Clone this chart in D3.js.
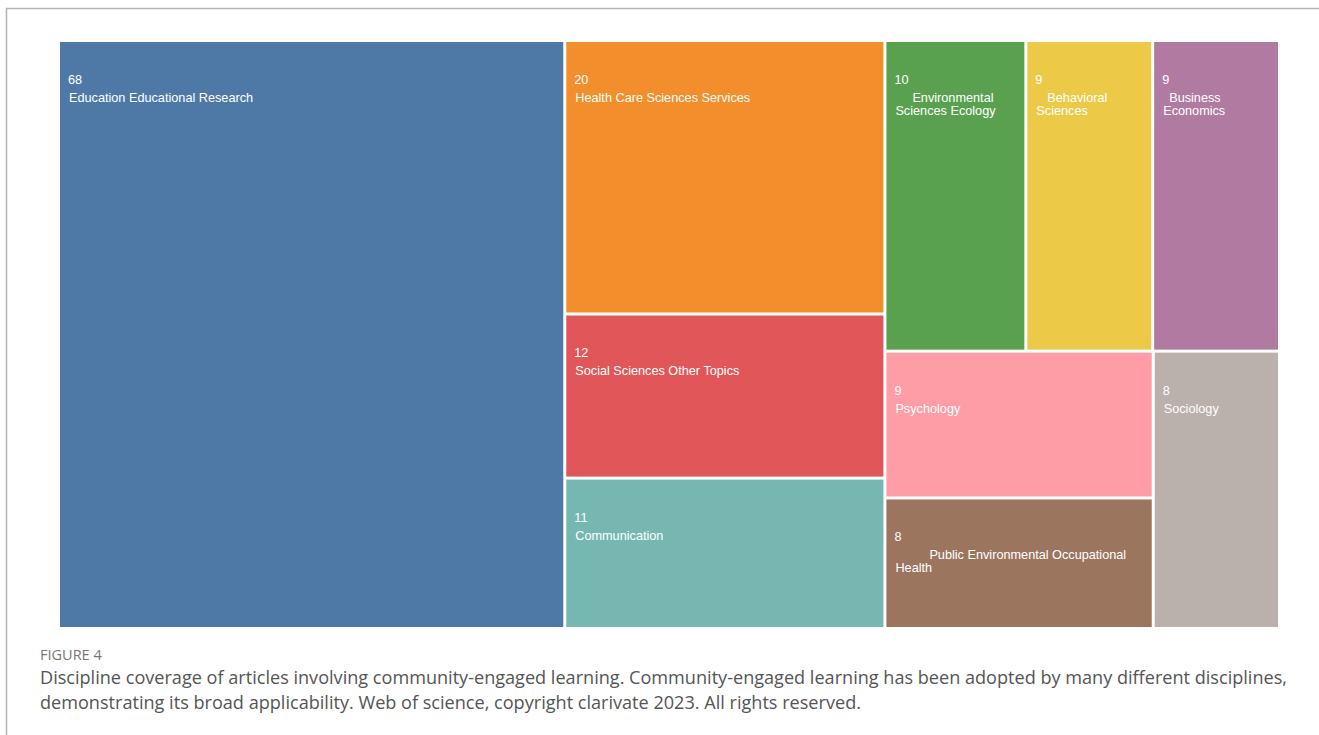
<!DOCTYPE html>
<html>
<head>
<meta charset="utf-8">
<script src="https://cdn.jsdelivr.net/npm/d3@7"></script>
<style>
  body { margin: 0; background: #fff; }
  svg { display: block; }
  .tile-label { font-family: "Liberation Sans", Arial, sans-serif; font-size: 12.7px; fill: #fff; }
  .fig-num { font-family: "Open Sans", sans-serif; font-size: 14.5px; fill: #777; }
  .caption { font-family: "Open Sans", sans-serif; font-size: 18.1px; fill: #555; }
</style>
</head>
<body>
<div id="chart"></div>
<script>
// data
var categories = [
  "Education Educational Research",
  "Health Care Sciences Services",
  "Social Sciences Other Topics",
  "Communication",
  "Environmental Sciences Ecology",
  "Behavioral Sciences",
  "Business Economics",
  "Psychology",
  "Public Environmental Occupational Health",
  "Sociology"
];
var counts = [68, 20, 12, 11, 10, 9, 9, 9, 8, 8];
// grouping that gives the slice/dice arrangement of the original
var groups = ["", "mid", "mid", "mid", "right/top", "right/top", "right/top",
  "right/bottom/left", "right/bottom/left", "right/bottom"];

var colors = ["#4e79a7", "#f28e2b", "#e15759", "#76b7b2", "#59a14f",
  "#edc948", "#b07aa1", "#ff9da7", "#9c755f", "#bab0ac"];
// odd first-line indents seen in the original labels
var firstIndent = { "Environmental Sciences Ecology": 17, "Behavioral Sciences": 11,
  "Business Economics": 6, "Public Environmental Occupational Health": 34 };

var caption = [
  "Discipline coverage of articles involving community-engaged learning. Community-engaged learning has been adopted by many different disciplines,",
  "demonstrating its broad applicability. Web of science, copyright clarivate 2023. All rights reserved."
];

var W = 1319, H = 735;
var margin = { top: 42, left: 60 };
var width = 1218, height = 585;

var svg = d3.select("#chart").append("svg")
  .attr("width", W)
  .attr("height", H);

// frame
svg.append("path")
  .attr("d", "M6.5," + H + "V8.5H" + W)
  .attr("fill", "none")
  .attr("stroke", "#b3b3b3")
  .attr("stroke-width", 1.5);

// build nested tree from the group paths
var root = { name: "root", children: [] };
categories.forEach(function(c, i){
  var node = root;
  if (groups[i] !== "") {
    groups[i].split("/").forEach(function(g){
      var next = node.children.find(function(ch){ return ch.name === g && ch.children; });
      if (!next) {
        next = { name: g, children: [] };
        node.children.push(next);
      }
      node = next;
    });
  }
  node.children.push({ name: c, value: counts[i], idx: i });
});

var hier = d3.hierarchy(root).sum(function(d){ return d.value || 0; });

d3.treemap()
  .tile(d3.treemapSliceDice)
  .size([width, height])
  .paddingInner(3)
  .round(false)(hier);

var g = svg.append("g")
  .attr("transform", "translate(" + margin.left + "," + margin.top + ")");

var leaf = g.selectAll(".leaf")
  .data(hier.leaves())
  .enter().append("g")
  .attr("class", "leaf")
  .attr("transform", function(d){ return "translate(" + d.x0 + "," + d.y0 + ")"; });

leaf.append("rect")
  .attr("width", function(d){ return d.x1 - d.x0; })
  .attr("height", function(d){ return d.y1 - d.y0; })
  .attr("fill", function(d){ return colors[d.data.idx]; });

leaf.append("text")
  .attr("class", "tile-label")
  .attr("x", 8)
  .attr("y", 42)
  .text(function(d){ return d.value; });

// word wrap of the name
leaf.each(function(d){
  var sel = d3.select(this);
  var maxW = (d.x1 - d.x0) - 18;
  var indent = firstIndent[d.data.name] || 0;
  var text = sel.append("text").attr("class", "tile-label");
  var words = d.data.name.split(" ");
  var lines = [], cur = [];
  var probe = text.append("tspan");
  words.forEach(function(w){
    var trial = cur.concat([w]).join(" ");
    probe.text(trial);
    var limit = maxW - (lines.length === 0 ? indent : 0);
    if (cur.length && probe.node().getComputedTextLength() > limit) {
      lines.push(cur.join(" "));
      cur = [w];
    } else {
      cur.push(w);
    }
  });
  lines.push(cur.join(" "));
  probe.remove();
  lines.forEach(function(l, i){
    text.append("tspan")
      .attr("x", 9 + (i === 0 ? indent : 0))
      .attr("y", 60 + i * 13)
      .text(l);
  });
});

// caption
svg.append("text")
  .attr("class", "fig-num")
  .attr("x", 40)
  .attr("y", 660)
  .text("FIGURE 4");

svg.selectAll(".caption")
  .data(caption)
  .enter().append("text")
  .attr("class", "caption")
  .attr("x", 40)
  .attr("y", function(d, i){ return 684 + i * 25; })
  .text(function(d){ return d; });
</script>
</body>
</html>
